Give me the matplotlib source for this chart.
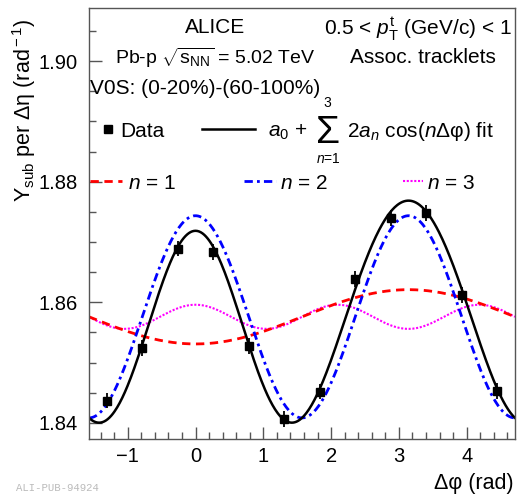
"""
ALICE Pb-p two-particle correlation: Fourier decomposition of the subtracted yield.
"""

import numpy as np
import matplotlib
matplotlib.use("Agg")
from matplotlib import pyplot as plt
from matplotlib.lines import Line2D

plt.rcParams["font.family"] = ["Liberation Sans", "DejaVu Sans"]
plt.rcParams["mathtext.fontset"] = "custom"
plt.rcParams["mathtext.rm"] = "Liberation Sans"
plt.rcParams["mathtext.it"] = "Liberation Sans:italic"
plt.rcParams["mathtext.bf"] = "Liberation Sans:bold"

# data points, 12 bins in delta phi
dphi = np.array([-1.309, -0.785, -0.262, 0.262, 0.785, 1.309,
                 1.833, 2.356, 2.880, 3.403, 3.927, 4.451])
yield_sub = np.array([1.8437, 1.8524, 1.8689, 1.8683, 1.8528, 1.8407,
                      1.8452, 1.8639, 1.8740, 1.8748, 1.8612, 1.8453])
yield_err = np.array([0.0013, 0.0013, 0.0013, 0.0013, 0.0013, 0.0013,
                      0.0013, 0.0013, 0.0013, 0.0013, 0.0013, 0.0013])

# fourier coefficients of the fit
a0 = 1.8576
a1 = -0.00225
a2 = 0.00838
a3 = 0.0010

W, H = 518, 498
FS = 15


def fx(x):
    return x / W


def fy(y):
    return 1 - y / H


fig = plt.figure(figsize=(W / 100, H / 100), dpi=100)
ax = fig.add_axes([fx(89), fy(439), (515 - 89) / W, (439 - 8) / H])

x = np.linspace(-np.pi / 2, 3 * np.pi / 2, 500)
fit = a0 + 2 * (a1 * np.cos(x) + a2 * np.cos(2 * x) + a3 * np.cos(3 * x))
c1 = a0 + 2 * a1 * np.cos(x)
c2 = a0 + 2 * a2 * np.cos(2 * x)
c3 = a0 + 2 * a3 * np.cos(3 * x)

ls1 = (0, (3, 2))
ls2 = (0, (3, 1.5, 1, 1.5))
ls3 = (0, (1, 0.8))

ax.plot(x, c3, color="#ff00ff", lw=1.5, ls=ls3)
ax.plot(x, c1, color="#ff0000", lw=2, ls=ls1)
ax.plot(x, c2, color="#0000ff", lw=2, ls=ls2)
ax.plot(x, fit, color="black", lw=1.8)
ax.errorbar(dphi, yield_sub, yerr=yield_err, fmt="s", color="black",
            ms=5.5, lw=1.3, capsize=0)

ax.set_xlim(-np.pi / 2, 3 * np.pi / 2)
ax.set_ylim(1.83734, 1.9088)
ax.set_xticks([-1, 0, 1, 2, 3, 4])
ax.set_xticks(np.arange(-1.4, 4.7, 0.2), minor=True)
ax.set_yticks([1.84, 1.86, 1.88, 1.90])
ax.set_yticks(np.arange(1.84, 1.909, 0.005), minor=True)
ax.set_yticklabels(["1.84", "1.86", "1.88", "1.90"])

for s in ax.spines.values():
    s.set_color("#555555")
    s.set_linewidth(1)
ax.tick_params(which="both", direction="in", colors="#555555",
               labelcolor="black", labelsize=14.5)
ax.tick_params(which="major", length=9, width=1)
ax.tick_params(which="minor", length=5, width=1)
ax.tick_params(axis="y", which="major", pad=8)
ax.tick_params(axis="x", which="major", pad=6)

# axis titles
fig.text(fx(24), fy(18), r"Y$_{\rm sub}$ per Δη (rad$^{\rm -1}$)",
         rotation=90, ha="center", va="top", size=15.5)
fig.text(fx(514), fy(489), "Δφ (rad)", ha="right", va="baseline", size=15.5)

# labels
fig.text(fx(215), fy(33), "ALICE", ha="center", va="baseline", size=FS)
fig.text(fx(215), fy(64), r"Pb-p $\sqrt{\rm s_{NN}}$ = 5.02 TeV",
         ha="center", va="baseline", size=14)
fig.text(fx(90), fy(94), "V0S: (0-20%)-(60-100%)", ha="left",
         va="baseline", size=FS)
fig.text(fx(512), fy(34), r"0.5 < $p_{\rm T}^{\rm t}$ (GeV/c) < 1",
         ha="right", va="baseline", size=FS)
fig.text(fx(350), fy(63), "Assoc. tracklets", ha="left", va="baseline",
         size=FS)

# legend
fig.add_artist(Line2D([fx(108)], [fy(129)], marker="s", ms=5.5,
                      color="black", ls="none"))
fig.text(fx(120), fy(137), "Data", ha="left", va="baseline", size=FS)
fig.add_artist(Line2D([fx(202), fx(255)], [fy(129), fy(129)],
                      color="black", lw=1.8))
fig.text(fx(268), fy(137), r"$a_0$ +", ha="left", va="baseline", size=FS)
fig.text(fx(327), fy(151), r"$\Sigma$", ha="center", va="bottom", size=28)
fig.text(fx(327), fy(107), "3", ha="center", va="baseline", size=10)
fig.text(fx(328), fy(152), r"$n$=1", ha="center", va="top", size=10)
fig.text(fx(347), fy(137), r"2$a_n$ cos($n$Δφ) fit", ha="left",
         va="baseline", size=FS)

fig.add_artist(Line2D([fx(90), fx(122)], [fy(181), fy(181)],
                      color="#ff0000", lw=2, ls=ls1))
fig.text(fx(128), fy(189), r"$n$ = 1", ha="left", va="baseline", size=FS)
fig.add_artist(Line2D([fx(244), fx(276)], [fy(181), fy(181)],
                      color="#0000ff", lw=2, ls=ls2))
fig.text(fx(280), fy(189), r"$n$ = 2", ha="left", va="baseline", size=FS)
fig.add_artist(Line2D([fx(403), fx(423)], [fy(181), fy(181)],
                      color="#ff00ff", lw=1.5, ls=ls3))
fig.text(fx(427), fy(189), r"$n$ = 3", ha="left", va="baseline", size=FS)

fig.text(fx(16), fy(491), "ALI-PUB-94924", ha="left", va="baseline",
         size=7.7, color="#bbbbbb", family="Liberation Mono")

fig.savefig("out.png", dpi=100)
